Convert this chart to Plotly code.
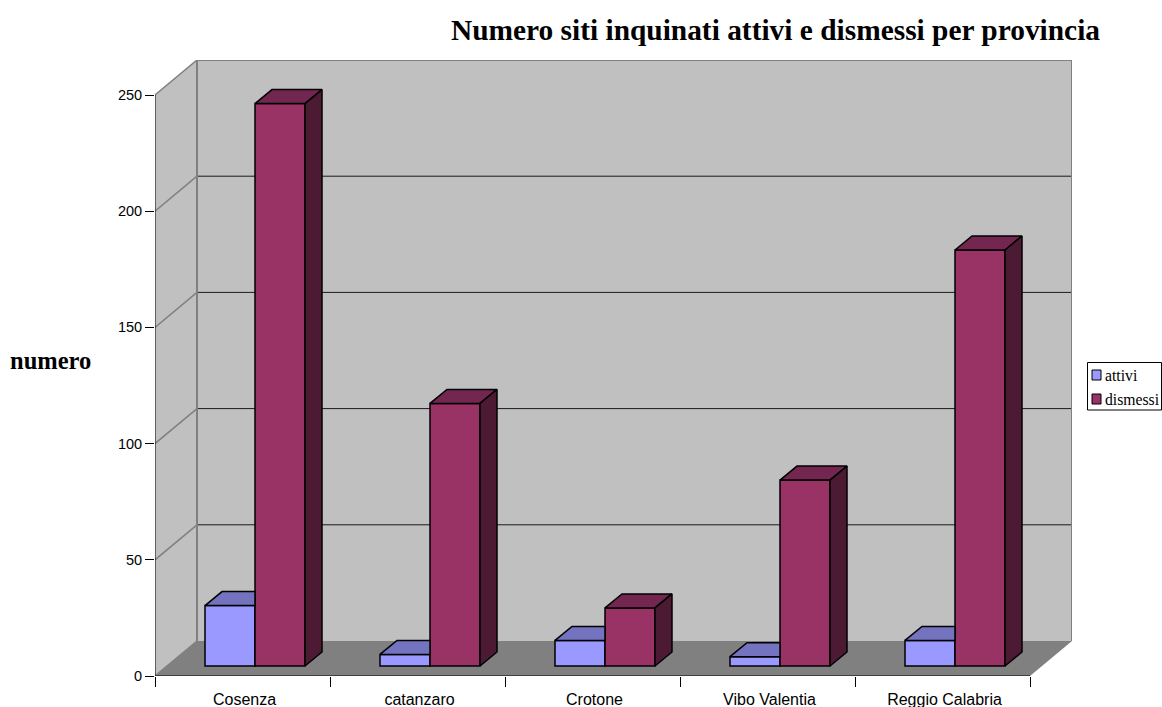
import plotly.graph_objects as go

categories = ["Cosenza", "catanzaro", "Crotone", "Vibo Valentia", "Reggio Calabria"]
attivi = [26, 5, 11, 4, 11]
dismessi = [242, 113, 25, 80, 179]
y_ticks = [0, 50, 100, 150, 200, 250]
series_names = ["attivi", "dismessi"]
title = "Numero siti inquinati attivi e dismessi per provincia"
y_title = "numero"

W, H = 1162, 707
L, R, T, B = 155, 1072, 60, 676
PX_X = 175.0
PX_Y = (676 - 95) / 250
XMIN, XMAX = -0.5, 4.5 + 42 / PX_X
YMIN, YMAX = 0, (B - T) / PX_Y
WALL_DX, WALL_DY = 42 / PX_X, 35 / PX_Y
BAR_DX, BAR_DY = 17 / PX_X, 14 / PX_Y
BASE = 10 / PX_Y
BAR_W = 50 / PX_X
OFF_A, OFF_D = -37.5 / PX_X, 12.5 / PX_X
LABEL_SHIFT = 2 / PX_X
COL_A = ("#9999FF", "#7373BF", "#4D4D80")
COL_D = ("#993366", "#732650", "#4D1A33")

fig = go.Figure()
shapes = []


def wall(pts, fill):
    path = "M " + " L ".join(f"{x},{y}" for x, y in pts) + " Z"
    shapes.append(dict(type="path", path=path, xref="x", yref="y", layer="below",
                       fillcolor=fill, line=dict(width=0)))


def seg(x_a, y_a, x_b, y_b, color, width=1):
    shapes.append(dict(type="line", x0=x_a, y0=y_a, x1=x_b, y1=y_b, xref="x", yref="y", layer="below",
                       line=dict(color=color, width=width)))


def poly(xs, ys, fill):
    fig.add_trace(go.Scatter(x=xs, y=ys, mode="lines", fill="toself", fillcolor=fill,
                             line=dict(color="#000000", width=1.5), hoverinfo="skip", showlegend=False))


x0, x1 = XMIN, XMIN + 5
top_y = y_ticks[-1]
wall([(x0 + WALL_DX, WALL_DY), (x1 + WALL_DX, WALL_DY), (x1 + WALL_DX, top_y + WALL_DY), (x0 + WALL_DX, top_y + WALL_DY)], "#C0C0C0")
wall([(x0, 0), (x0 + WALL_DX, WALL_DY), (x0 + WALL_DX, top_y + WALL_DY), (x0, top_y)], "#C0C0C0")
wall([(x0, 0), (x1, 0), (x1 + WALL_DX, WALL_DY), (x0 + WALL_DX, WALL_DY)], "#808080")
for t in y_ticks[1:-1]:
    seg(x0 + WALL_DX, t + WALL_DY, x1 + WALL_DX, t + WALL_DY, "#1a1a1a", 1)
for t in y_ticks[1:]:
    seg(x0, t, x0 + WALL_DX, t + WALL_DY, "#808080", 1.5)
seg(x0 + WALL_DX, top_y + WALL_DY, x1 + WALL_DX, top_y + WALL_DY, "#808080", 2)
seg(x1 + WALL_DX, WALL_DY, x1 + WALL_DX, top_y + WALL_DY, "#808080", 2)
seg(x0 + WALL_DX, WALL_DY, x0 + WALL_DX, top_y + WALL_DY, "#808080", 2)
seg(x0, 0, x0 + WALL_DX, WALL_DY, "#808080", 1.5)
seg(x0, 0, x0, top_y, "#000000", 1)
seg(x0, 0, x1, 0, "#000000", 1)

# bars (front faces)
xpos = list(range(len(categories)))
fig.add_trace(go.Bar(x=xpos, y=attivi, base=BASE, offset=OFF_A, width=BAR_W, name=series_names[0],
                     marker=dict(color=COL_A[0], line=dict(color="#000000", width=1.5)), showlegend=False))
fig.add_trace(go.Bar(x=xpos, y=dismessi, base=BASE, offset=OFF_D, width=BAR_W, name=series_names[1],
                     marker=dict(color=COL_D[0], line=dict(color="#000000", width=1.5)), showlegend=False))

# 3D tops and sides
for i in xpos:
    xa, xb = i + OFF_A, i + OFF_A + BAR_W
    yt = BASE + attivi[i]
    poly([xa, xb, xb, xa + BAR_DX, xa], [yt, yt, yt + BAR_DY, yt + BAR_DY, yt], COL_A[1])
    xa, xb = i + OFF_D, i + OFF_D + BAR_W
    yb, yt = BASE, BASE + dismessi[i]
    poly([xa, xb, xb + BAR_DX, xa + BAR_DX, xa], [yt, yt, yt + BAR_DY, yt + BAR_DY, yt], COL_D[1])
    poly([xb, xb + BAR_DX, xb + BAR_DX, xb, xb], [yb, yb + BAR_DY, yt + BAR_DY, yt, yb], COL_D[2])


def px(x):
    return (x - L) / (R - L)


def py(y):
    return (B - y) / (B - T)


# legend box
shapes.append(dict(type="rect", xref="paper", yref="paper", x0=px(1087.5), x1=px(1161.5), y0=py(410), y1=py(362.5),
                   fillcolor="#FFFFFF", line=dict(color="#000000", width=1), layer="above"))
annotations = [dict(text="<b>%s</b>" % y_title, xref="paper", yref="paper", showarrow=False,
                    x=px(50.5), y=py(360), xanchor="center", yanchor="middle",
                    font=dict(family="Liberation Serif", size=24.5, color="#000000"))]
for name, col, yc in zip(series_names, (COL_A, COL_D), (375, 399)):
    shapes.append(dict(type="rect", xref="paper", yref="paper", x0=px(1092), x1=px(1101), y0=py(yc + 5), y1=py(yc - 5),
                       fillcolor=col[0], line=dict(color="#000000", width=1), layer="above"))
    annotations.append(dict(text=name, xref="paper", yref="paper", showarrow=False, x=px(1104), y=py(yc),
                            xanchor="left", yanchor="middle", borderpad=0,
                            font=dict(family="Liberation Serif", size=15.7, color="#000000")))

fig.update_layout(
    width=W, height=H, autosize=False,
    margin=dict(l=L, r=W - R, t=T, b=H - B, pad=0),
    paper_bgcolor="#FFFFFF", plot_bgcolor="rgba(0,0,0,0)",
    barmode="overlay", showlegend=False,
    font=dict(family="Liberation Sans", size=14, color="#000000"),
    title=dict(text="<b>%s</b>" % title, font=dict(family="Liberation Serif", size=29.4, color="#000000"),
               x=1100 / W, xanchor="right", xref="container",
               y=1 - 30 / H, yanchor="middle"),
    xaxis=dict(range=[XMIN, XMAX], tickmode="array", tickvals=[p + LABEL_SHIFT for p in xpos], ticktext=categories,
               ticks="", showgrid=False, zeroline=False, showline=False, fixedrange=True, automargin=False,
               tickfont=dict(size=16), ticklabelstandoff=12,
               minor=dict(tickmode="array", tickvals=[x0 + k for k in range(6)], ticks="outside",
                          ticklen=10, tickcolor="#000000", tickwidth=1, showgrid=False)),
    yaxis=dict(range=[YMIN, YMAX], tickmode="array", tickvals=y_ticks, ticks="outside", ticklen=9,
               tickcolor="#000000", tickwidth=1, showgrid=False, zeroline=False, showline=False,
               fixedrange=True, automargin=False, tickfont=dict(size=14.5)),
    shapes=shapes, annotations=annotations,
)

fig.write_html("out.html", config={"displayModeBar": False},
               post_script="document.body.style.margin='0';document.documentElement.style.overflow='hidden';")
